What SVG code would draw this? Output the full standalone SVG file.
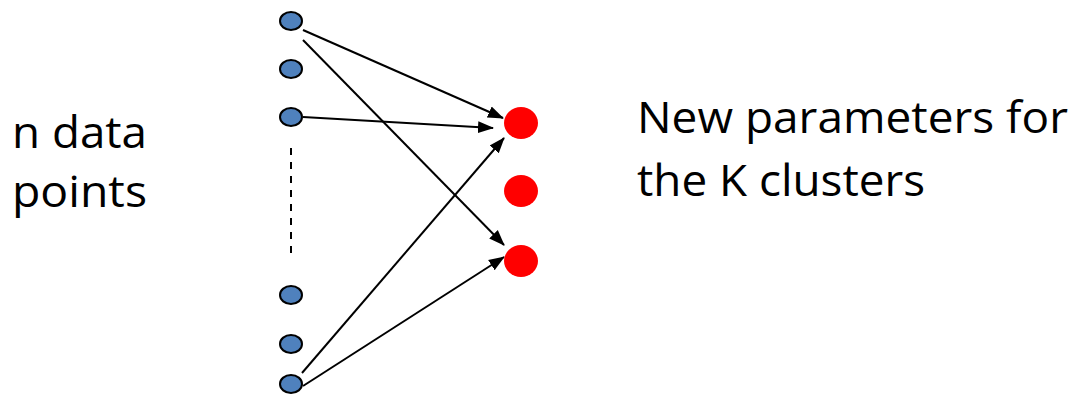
<svg xmlns="http://www.w3.org/2000/svg" width="1074" height="395" viewBox="0 0 1074 395">
<style>
.dp{fill:#4f81bd;stroke:#000;stroke-width:2}
.cl{fill:#ff0000}
.lbl{font-family:"Open Sans","Liberation Sans",sans-serif;font-size:43px;fill:#000}
.ed{stroke:#000;stroke-width:2;fill:none;marker-end:url(#ah)}
</style>
<defs>
<marker id="ah" markerUnits="userSpaceOnUse" markerWidth="16" markerHeight="14" refX="15" refY="6" orient="auto" viewBox="0 0 16 12">
<path d="M0,0 L16,6 L0,12 z" fill="#000"/>
</marker>
</defs>
<g id="label-left"><text class="lbl" x="12" y="148" textLength="135" lengthAdjust="spacingAndGlyphs">n data</text><text class="lbl" x="12" y="207" textLength="135" lengthAdjust="spacingAndGlyphs">points</text></g>
<g id="label-right"><text class="lbl" x="637" y="133" textLength="431" lengthAdjust="spacingAndGlyphs">New parameters for</text><text class="lbl" x="637" y="196" textLength="288" lengthAdjust="spacingAndGlyphs">the K clusters</text></g>
<g id="connectors">
<line class="ed" x1="303" y1="30" x2="503" y2="118"/>
<line class="ed" x1="303" y1="40" x2="504" y2="245"/>
<line class="ed" x1="303" y1="117" x2="493" y2="128"/>
<line class="ed" x1="302" y1="373" x2="504" y2="138"/>
<line class="ed" x1="303" y1="386" x2="504" y2="257"/>
<line x1="291" y1="148" x2="291" y2="254" stroke="#000" stroke-width="2" stroke-dasharray="7 7"/>
</g>
<g id="p1"><ellipse class="dp" cx="291" cy="21" rx="11" ry="9"/></g>
<g id="p2"><ellipse class="dp" cx="291" cy="69" rx="11" ry="9"/></g>
<g id="p3"><ellipse class="dp" cx="291" cy="117" rx="11" ry="9"/></g>
<g id="p4"><ellipse class="dp" cx="291" cy="295" rx="11" ry="9"/></g>
<g id="p5"><ellipse class="dp" cx="291" cy="344" rx="11" ry="9"/></g>
<g id="p6"><ellipse class="dp" cx="291" cy="384" rx="11" ry="9"/></g>
<g id="c1"><ellipse class="cl" cx="521" cy="123" rx="17" ry="16"/></g>
<g id="c2"><ellipse class="cl" cx="521" cy="191" rx="17" ry="16"/></g>
<g id="c3"><ellipse class="cl" cx="521" cy="261" rx="17" ry="16"/></g>
</svg>
